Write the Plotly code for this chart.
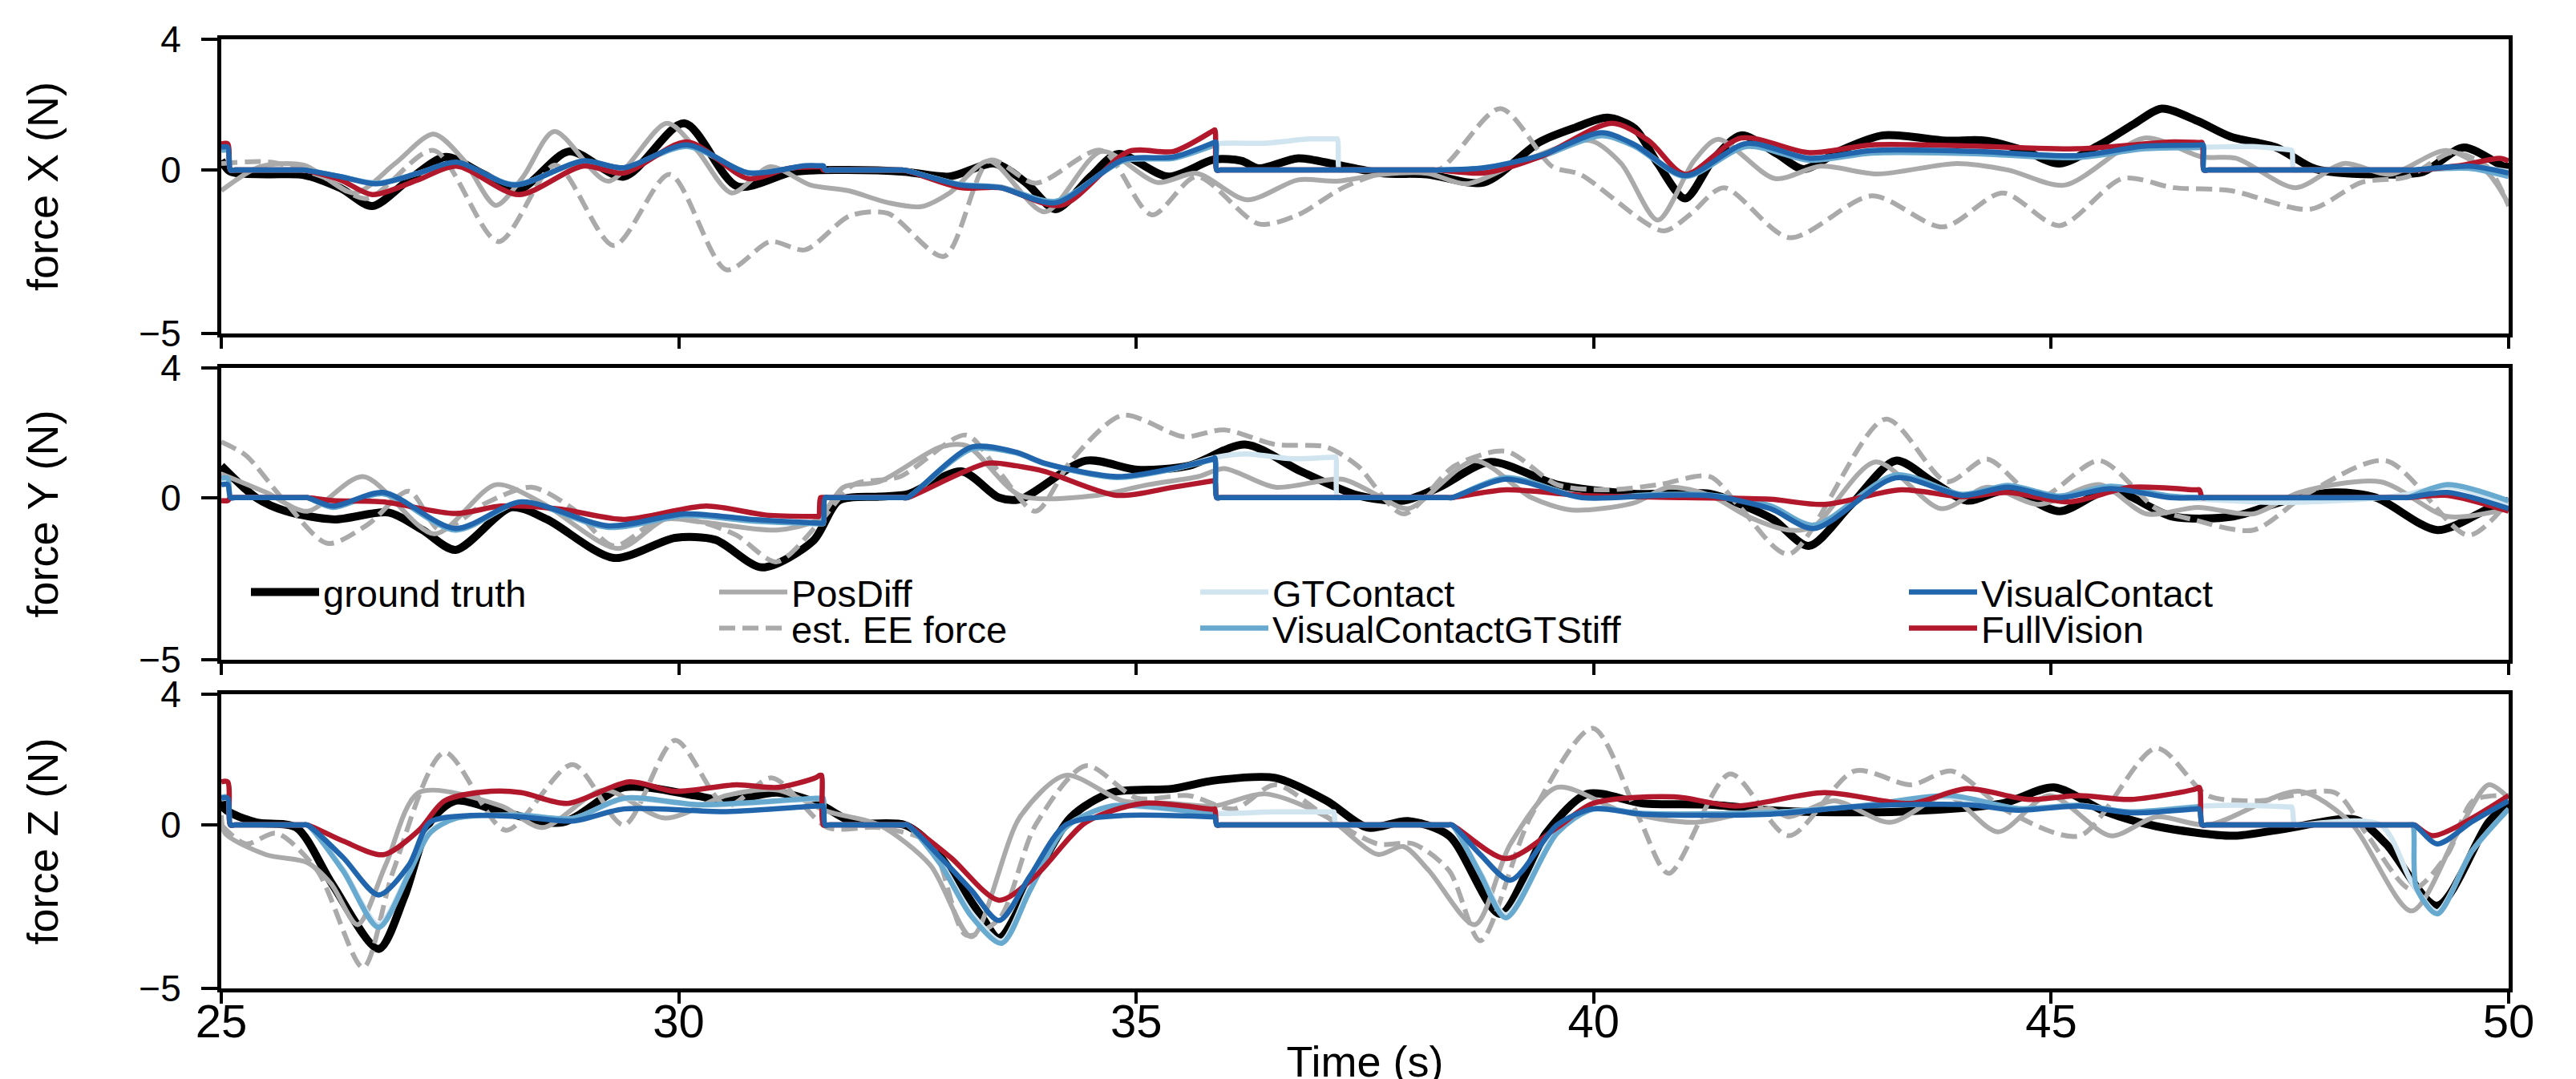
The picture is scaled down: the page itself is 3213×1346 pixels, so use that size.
import plotly.graph_objects as go

# ---------------- data: force X ----------------
t_x_gt = [25.0, 25.1, 25.5, 25.9, 26.3, 26.65, 27.05, 27.45, 27.85, 28.25, 28.8, 29.4, 30.06, 30.64, 31.26, 31.8, 32.46, 32.96, 33.45, 33.8, 34.12, 34.5, 34.8, 35.35, 35.85, 36.15, 36.34, 36.77, 37.2, 37.7, 38.18, 38.8, 39.41, 39.8, 40.15, 40.45, 40.7, 41.0, 41.3, 41.61, 42.0, 42.29, 42.7, 43.16, 43.85, 44.28, 44.7, 45.09, 45.53, 45.9, 46.21, 46.6, 46.96, 47.46, 47.89, 48.51, 49.07, 49.51, 49.94, 50.0]
f_x_gt = [0.3, -0.05, -0.13, -0.15, -0.55, -1.1, -0.3, 0.4, -0.1, -0.6, 0.57, -0.2, 1.43, -0.5, -0.05, 0.0, -0.05, -0.2, 0.2, -0.4, -1.2, -0.2, 0.49, -0.2, 0.32, 0.28, 0.05, 0.36, 0.16, -0.1, -0.13, -0.38, 0.86, 1.3, 1.6, 1.27, 0.2, -0.87, 0.3, 1.06, 0.5, 0.03, 0.6, 1.06, 0.9, 0.9, 0.6, 0.2, 0.77, 1.4, 1.88, 1.5, 1.02, 0.69, 0.03, -0.13, -0.05, 0.69, 0.12, 0.1]

t_x_pd = [25.0, 25.42, 25.9, 26.46, 26.9, 27.32, 27.65, 28.0, 28.3, 28.64, 29.23, 29.87, 30.2, 30.58, 31.0, 31.44, 31.85, 32.29, 32.65, 32.96, 33.39, 34.0, 34.62, 35.23, 35.66, 36.21, 36.77, 37.2, 37.69, 38.18, 38.61, 39.23, 39.96, 40.3, 40.7, 41.1, 41.36, 41.98, 42.48, 43.1, 43.97, 44.53, 45.15, 46.02, 46.65, 47.02, 47.67, 48.2, 48.7, 49.32, 49.76, 50.0]
f_x_pd = [-0.63, 0.1, 0.15, -0.7, 0.2, 1.1, 0.3, -1.08, -0.2, 1.18, -0.34, 1.43, 0.6, -0.7, 0.1, -0.46, -0.63, -1.0, -1.12, -0.7, 0.28, -1.28, 0.57, -0.38, -0.1, -0.91, -0.3, -0.34, -0.13, -0.1, -0.42, 0.28, 0.9, 0.2, -1.53, 0.3, 0.94, -0.26, 0.12, -0.12, 0.2, 0.0, -0.46, 0.98, 0.4, 0.36, -0.54, 0.2, -0.13, 0.6, -0.05, -1.04]

t_x_ee = [25.0, 25.54, 26.1, 26.59, 27.32, 28.03, 28.65, 29.29, 29.9, 30.52, 31.0, 31.38, 31.87, 32.28, 32.9, 33.4, 33.9, 34.62, 35.17, 35.66, 36.34, 36.77, 37.26, 37.75, 38.3, 38.98, 39.55, 39.85, 40.76, 41.05, 41.42, 42.14, 43.04, 43.82, 44.47, 45.09, 45.78, 46.34, 46.96, 47.83, 48.39, 48.89, 49.38, 49.76, 50.0]
f_x_ee = [0.2, 0.24, -0.2, -0.87, 0.6, -2.19, 0.15, -2.31, -0.13, -3.05, -2.19, -2.44, -1.4, -1.32, -2.64, 0.3, -0.4, 0.6, -1.37, -0.2, -1.65, -1.37, -0.54, -0.05, 0.0, 1.88, 0.1, -0.13, -1.86, -1.37, -0.54, -2.07, -0.79, -1.74, -0.7, -1.7, -0.26, -0.54, -0.63, -1.2, -0.38, -0.21, 0.53, 0.12, -1.1]

t_x_gtc = [25.0, 25.07, 25.1, 25.15, 25.85, 25.9, 26.3, 26.7, 27.15, 27.57, 28.2, 28.95, 29.4, 30.09, 30.76, 31.38, 31.56, 31.58, 31.6, 31.65, 32.4, 32.46, 33.08, 33.51, 34.12, 34.86, 35.41, 35.88, 36.4, 36.9, 37.18, 37.2, 37.22, 37.26, 38.25, 38.3, 38.8, 39.41, 40.09, 40.45, 41.0, 41.67, 42.36, 43.04, 44.16, 45.28, 46.02, 46.66, 47.2, 47.6, 47.63, 47.65, 47.7, 48.9, 48.95, 49.57, 50.0]
f_x_gtc = [0.6, 0.6, 0.0, 0.0, 0.0, 0.0, -0.2, -0.4, -0.1, 0.22, -0.45, 0.27, 0.07, 0.75, -0.08, 0.13, 0.13, 0.13, 0.0, 0.0, 0.0, 0.0, -0.45, -0.52, -0.97, 0.3, 0.4, 0.8, 0.82, 0.95, 0.95, 0.95, 0.0, 0.0, 0.0, 0.0, 0.07, 0.42, 1.1, 0.75, -0.15, 0.78, 0.36, 0.58, 0.55, 0.43, 0.7, 0.7, 0.72, 0.62, 0.6, 0.0, 0.0, 0.0, 0.0, 0.1, -0.05]

t_x_vc = [25.0, 25.07, 25.1, 25.15, 25.85, 25.9, 26.3, 26.7, 27.15, 27.57, 28.2, 28.95, 29.4, 30.09, 30.76, 31.38, 31.56, 31.58, 31.6, 31.65, 32.4, 32.46, 33.08, 33.51, 34.12, 34.86, 35.41, 35.85, 35.87, 35.88, 35.92, 38.25, 38.3, 38.8, 39.41, 40.09, 40.45, 41.0, 41.67, 42.36, 43.04, 44.16, 45.28, 46.02, 46.62, 46.66, 46.67, 46.72, 48.9, 48.95, 49.57, 50.0]
f_x_vcs = [0.6, 0.6, 0.0, 0.0, 0.0, 0.0, -0.2, -0.4, -0.1, 0.22, -0.44, 0.26, 0.07, 0.72, -0.08, 0.12, 0.12, 0.12, 0.0, 0.0, 0.0, 0.0, -0.44, -0.52, -0.95, 0.28, 0.36, 0.76, 0.78, 0.0, 0.0, 0.0, 0.0, 0.05, 0.4, 1.05, 0.72, -0.2, 0.72, 0.3, 0.52, 0.5, 0.38, 0.65, 0.69, 0.7, 0.0, 0.0, 0.0, 0.0, 0.05, -0.2]
f_x_vc = [0.7, 0.7, 0.0, 0.0, 0.0, 0.0, -0.2, -0.42, -0.1, 0.24, -0.46, 0.28, 0.07, 0.77, -0.09, 0.13, 0.13, 0.13, 0.0, 0.0, 0.0, 0.0, -0.46, -0.54, -1.0, 0.32, 0.4, 0.84, 0.86, 0.0, 0.0, 0.0, 0.0, 0.07, 0.44, 1.14, 0.77, -0.17, 0.81, 0.36, 0.6, 0.57, 0.44, 0.73, 0.76, 0.77, 0.0, 0.0, 0.0, 0.0, 0.12, -0.09]

t_x_fv = [25.0, 25.07, 25.1, 25.15, 25.85, 25.9, 26.3, 26.65, 27.15, 27.57, 28.25, 28.95, 29.4, 30.09, 30.76, 31.2, 31.54, 31.56, 31.58, 31.63, 32.4, 32.46, 33.08, 33.51, 34.18, 34.92, 35.41, 35.84, 35.86, 35.88, 35.92, 38.25, 38.3, 38.8, 39.41, 40.2, 40.6, 41.0, 41.61, 42.36, 43.04, 44.16, 45.28, 46.34, 46.62, 46.65, 46.67, 46.72, 48.95, 49.0, 49.5, 49.9, 50.0]
f_x_fv = [0.8, 0.8, 0.0, 0.0, 0.0, 0.0, -0.3, -0.75, -0.3, 0.12, -0.75, 0.12, -0.09, 0.86, -0.26, 0.05, 0.1, 0.1, 0.0, 0.0, 0.0, 0.0, -0.54, -0.54, -1.08, 0.57, 0.57, 1.2, 1.23, 0.0, 0.0, 0.0, 0.0, -0.09, 0.4, 1.43, 0.9, -0.13, 0.98, 0.53, 0.77, 0.73, 0.65, 0.86, 0.84, 0.84, 0.0, 0.0, 0.0, 0.0, 0.15, 0.36, 0.28]

# ---------------- data: force Y ----------------
t_y_gt = [25.0, 25.38, 25.71, 26.24, 26.83, 27.2, 27.56, 28.17, 28.56, 29.29, 29.96, 30.4, 30.91, 31.47, 31.75, 32.19, 32.5, 33.09, 33.5, 33.73, 34.45, 35.01, 35.57, 36.19, 36.8, 37.42, 37.92, 38.31, 38.87, 39.6, 40.43, 41.27, 41.6, 41.96, 42.35, 42.8, 43.3, 43.7, 44.08, 44.53, 45.09, 45.65, 46.32, 46.99, 47.55, 48.1, 48.55, 49.22, 49.78, 50.0]
f_y_gt = [0.98, 0.0, -0.42, -0.67, -0.46, -1.0, -1.61, -0.3, -0.67, -1.86, -1.24, -1.3, -2.15, -1.33, -0.09, 0.03, 0.1, 0.81, 0.0, -0.05, 1.14, 0.86, 0.98, 1.64, 0.81, 0.07, -0.09, 0.32, 1.1, 0.4, 0.12, 0.12, -0.2, -0.67, -1.49, -0.26, 1.14, 0.5, -0.09, 0.24, -0.42, 0.24, -0.58, -0.58, -0.1, 0.16, 0.0, -1.0, -0.34, -0.09]

t_y_pd = [25.0, 25.49, 25.94, 26.55, 27.33, 28.0, 28.51, 29.34, 29.85, 30.24, 31.07, 31.52, 31.8, 32.19, 32.86, 33.15, 33.73, 34.57, 35.13, 35.68, 35.96, 36.52, 37.25, 37.64, 37.97, 38.7, 39.32, 39.76, 40.43, 40.82, 41.27, 41.7, 42.13, 42.4, 43.08, 43.8, 44.3, 44.86, 45.53, 46.04, 46.6, 47.21, 47.71, 48.6, 49.33, 50.0]
f_y_pd = [0.73, 0.16, -0.42, 0.65, -1.12, 0.4, -0.17, -1.57, -0.67, -0.75, -1.0, -0.67, 0.32, 0.49, 1.56, 1.6, 0.07, 0.07, 0.4, 0.65, 0.9, 0.32, 0.57, 0.07, -0.34, 1.14, 0.0, -0.38, -0.17, 0.32, 0.07, -0.6, -1.0, -0.9, 1.1, -0.34, 0.32, -0.21, 0.4, -0.5, -0.3, -0.5, 0.16, 0.49, -0.58, -0.34]

t_y_ee = [25.0, 25.27, 25.66, 26.16, 26.6, 27.05, 27.39, 27.89, 28.39, 28.84, 29.29, 29.79, 30.24, 30.63, 31.07, 31.52, 31.91, 32.42, 33.14, 33.5, 33.9, 34.29, 34.85, 35.52, 35.96, 36.52, 37.08, 37.42, 37.92, 38.48, 39.04, 39.6, 40.15, 40.71, 41.27, 41.6, 42.13, 43.19, 43.86, 44.3, 44.86, 45.53, 46.15, 46.54, 47.21, 47.82, 48.66, 49.56, 50.0]
f_y_ee = [1.72, 1.3, 0.0, -1.41, -0.83, 0.2, -1.0, -0.17, 0.32, -0.34, -1.49, -0.67, -0.75, -1.16, -1.98, -0.83, 0.4, 0.65, 1.93, 0.8, -0.42, 1.14, 2.54, 1.88, 2.09, 1.64, 1.56, 0.98, -0.5, 0.98, 1.43, 0.4, 0.24, 0.4, 0.65, -0.3, -1.74, 2.42, 0.49, 1.19, 0.0, 1.14, -0.34, -0.67, -1.0, 0.16, 1.14, -1.16, -0.1]

t_y_gtc = [25.0, 25.07, 25.1, 25.15, 25.88, 25.94, 26.22, 26.77, 27.56, 28.28, 29.23, 30.07, 30.8, 31.5, 31.56, 31.58, 31.6, 31.65, 32.45, 32.5, 33.2, 33.69, 34.0, 34.79, 35.4, 35.88, 36.2, 36.7, 37.16, 37.18, 37.2, 37.25, 38.4, 38.45, 39.04, 39.87, 40.71, 41.27, 41.93, 42.41, 43.3, 44.03, 44.53, 45.09, 45.65, 46.3, 46.65, 47.5, 48.4, 48.89, 49.33, 50.0]
f_y_gtc = [0.5, 0.5, 0.0, 0.0, 0.0, 0.0, -0.3, 0.12, -1.0, -0.15, -0.9, -0.55, -0.7, -0.8, -0.8, -0.8, 0.0, 0.0, 0.0, 0.0, 1.5, 1.38, 1.05, 0.62, 0.88, 1.25, 1.35, 1.2, 1.25, 1.25, 0.0, 0.0, 0.0, 0.0, 0.6, 0.02, 0.08, 0.06, -0.3, -0.85, 0.68, 0.1, 0.35, 0.02, 0.3, 0.02, -0.05, -0.15, -0.05, 0.1, 0.35, -0.2]

t_y_vc = [25.0, 25.07, 25.1, 25.15, 25.88, 25.94, 26.22, 26.77, 27.56, 28.28, 29.23, 30.07, 30.8, 31.5, 31.56, 31.58, 31.6, 31.65, 32.45, 32.5, 33.2, 33.69, 34.0, 34.79, 35.4, 35.84, 35.86, 35.88, 35.92, 38.4, 38.45, 39.04, 39.87, 40.71, 41.27, 41.93, 42.41, 43.3, 44.03, 44.53, 45.09, 45.65, 46.3, 46.65, 48.85, 48.89, 49.33, 50.0]
f_y_vcs = [0.6, 0.6, 0.0, 0.0, 0.0, 0.0, -0.3, 0.12, -1.0, -0.15, -0.92, -0.55, -0.72, -0.8, -0.8, -0.8, 0.0, 0.0, 0.0, 0.0, 1.5, 1.38, 1.05, 0.62, 0.88, 1.18, 1.2, 0.0, 0.0, 0.0, 0.0, 0.62, 0.02, 0.1, 0.08, -0.25, -0.85, 0.7, 0.1, 0.38, 0.05, 0.35, 0.05, 0.0, 0.0, 0.0, 0.4, -0.1]
f_y_vc = [0.4, 0.4, 0.0, 0.0, 0.0, 0.0, -0.26, 0.16, -0.95, -0.13, -0.87, -0.5, -0.67, -0.78, -0.79, -0.79, 0.0, 0.0, 0.0, 0.0, 1.56, 1.4, 1.06, 0.65, 0.9, 1.2, 1.23, 0.0, 0.0, 0.0, 0.0, 0.57, 0.0, 0.07, 0.06, -0.34, -0.95, 0.61, 0.07, 0.32, 0.0, 0.28, 0.0, 0.0, 0.0, 0.0, 0.16, -0.34]

t_y_fv = [25.0, 25.07, 25.1, 25.15, 25.88, 25.94, 26.22, 26.77, 27.56, 28.06, 28.7, 29.4, 30.3, 30.96, 31.5, 31.53, 31.55, 31.6, 32.45, 32.5, 33.37, 33.69, 34.0, 34.79, 35.4, 35.84, 35.86, 35.88, 35.92, 38.4, 38.45, 39.04, 39.87, 40.99, 41.93, 42.52, 43.36, 44.03, 44.53, 45.2, 45.87, 46.58, 46.62, 46.65, 46.7, 48.85, 48.9, 49.33, 50.0]
f_y_fv = [-0.09, -0.09, 0.0, 0.0, 0.0, 0.0, -0.09, -0.13, -0.49, -0.26, -0.35, -0.67, -0.26, -0.54, -0.58, -0.58, 0.0, 0.0, 0.0, 0.0, 1.06, 0.98, 0.81, 0.07, 0.32, 0.52, 0.53, 0.0, 0.0, 0.0, 0.0, 0.24, 0.07, 0.0, -0.05, -0.21, 0.24, 0.03, 0.16, -0.13, 0.32, 0.24, 0.24, 0.0, 0.0, 0.0, 0.0, 0.07, -0.42]

# ---------------- data: force Z ----------------
t_z_gt = [25.0, 25.04, 25.38, 25.82, 26.21, 26.72, 27.0, 27.28, 27.56, 28.06, 28.73, 29.4, 30.18, 30.52, 31.08, 31.52, 31.91, 32.47, 32.75, 33.31, 33.5, 33.9, 34.29, 34.73, 35.4, 35.85, 36.52, 37.08, 37.53, 37.97, 38.42, 38.98, 39.48, 39.93, 40.54, 41.27, 41.93, 42.24, 43.36, 44.47, 45.03, 45.59, 46.15, 46.99, 47.55, 48.33, 48.66, 49.22, 49.78, 50.0]
f_z_gt = [0.9, 0.49, 0.08, -0.08, -1.8, -3.79, -2.2, 0.08, 0.74, 0.41, 0.08, 1.15, 0.9, 0.74, 0.99, 0.66, 0.08, 0.0, -0.58, -2.8, -3.46, -1.56, 0.25, 0.99, 1.11, 1.36, 1.44, 0.74, -0.08, 0.12, -0.33, -2.72, -0.25, 0.95, 0.66, 0.62, 0.45, 0.41, 0.41, 0.66, 1.15, 0.41, -0.04, -0.33, -0.12, 0.16, -0.58, -2.47, 0.08, 0.66]

t_z_pd = [25.0, 25.04, 25.49, 25.94, 26.2, 26.49, 26.8, 27.16, 28.06, 28.51, 29.18, 29.85, 30.52, 31.08, 31.63, 32.19, 32.75, 33.2, 33.73, 34.23, 34.85, 35.4, 35.85, 36.41, 37.08, 37.64, 37.92, 38.2, 38.7, 39.09, 39.6, 40.32, 41.1, 41.93, 42.13, 42.63, 43.24, 43.86, 44.42, 44.98, 45.65, 46.15, 46.71, 47.71, 48.27, 48.94, 49.44, 49.78, 50.0]
f_z_pd = [0.3, -0.25, -0.91, -1.15, -1.8, -3.05, -1.2, 0.99, 0.58, -0.08, 1.07, 0.21, 0.9, 1.07, 0.41, 0.0, -1.23, -3.42, 0.25, 1.52, 0.74, 0.66, 0.58, 0.95, 0.25, -0.9, -0.66, -1.4, -3.05, -0.58, 1.15, 0.41, 0.08, 0.49, 0.25, 0.74, 0.08, 0.9, -0.21, 0.9, -0.33, 0.25, 0.0, 1.03, 0.08, -2.63, -0.25, 1.23, 0.82]

t_z_ee = [25.0, 25.27, 25.6, 26.05, 26.55, 26.88, 27.44, 28.11, 28.84, 29.4, 29.96, 30.52, 31.02, 31.63, 32.19, 32.75, 33.14, 33.5, 33.9, 34.45, 35.01, 35.57, 36.07, 36.52, 37.08, 37.64, 38.03, 38.42, 38.76, 39.31, 39.99, 40.49, 40.82, 41.49, 42.13, 42.85, 43.47, 43.91, 44.53, 45.31, 46.15, 46.71, 47.27, 48.1, 48.44, 48.94, 49.33, 49.61, 50.0]
f_z_ee = [0.0, -0.58, -0.25, -1.4, -4.36, -1.4, 2.22, -0.16, 1.85, 0.0, 2.59, 0.58, 1.44, -0.08, -0.08, -0.58, -3.37, -2.88, 0.0, 1.81, 0.82, 0.9, 0.49, 1.23, 0.25, -0.58, -0.58, -1.4, -3.54, 0.25, 2.96, 0.25, -1.48, 1.56, -0.33, 1.65, 1.23, 1.65, 0.41, -0.33, 2.35, 0.9, 0.74, 0.99, -0.25, -1.98, -0.9, 0.74, 0.9]

t_z_gtc = [25.0, 25.07, 25.1, 25.15, 25.88, 25.94, 26.33, 26.72, 27.05, 27.28, 27.56, 28.28, 28.84, 29.4, 30.24, 31.5, 31.56, 31.58, 31.6, 31.65, 32.45, 32.5, 32.86, 33.2, 33.53, 33.84, 34.23, 34.73, 35.88, 36.5, 37.14, 37.16, 37.18, 37.22, 38.4, 38.45, 38.76, 39.04, 39.6, 39.99, 40.54, 41.93, 42.96, 43.9, 44.64, 45.31, 45.87, 46.65, 47.2, 47.6, 47.63, 47.66, 47.7, 48.6, 48.95, 49.22, 49.6, 50.0]
f_z_gtc = [0.8, 0.8, 0.0, 0.0, 0.0, 0.0, -1.35, -3.05, -1.45, -0.2, 0.2, 0.3, 0.2, 0.8, 0.6, 0.8, 0.8, 0.8, 0.0, 0.0, 0.0, 0.0, -1.15, -2.7, -3.55, -1.9, -0.05, 0.55, 0.35, 0.4, 0.4, 0.4, 0.0, 0.0, 0.0, 0.0, -1.45, -2.75, -0.2, 0.47, 0.35, 0.38, 0.6, 0.85, 0.5, 0.6, 0.4, 0.58, 0.6, 0.55, 0.55, 0.0, 0.0, 0.0, -1.8, -2.65, -0.8, 0.49]

t_z_vcs = [25.0, 25.07, 25.1, 25.15, 25.88, 25.94, 26.33, 26.72, 27.05, 27.28, 27.56, 28.28, 28.84, 29.4, 30.24, 31.5, 31.56, 31.58, 31.6, 31.65, 32.45, 32.5, 32.86, 33.2, 33.53, 33.84, 34.23, 34.73, 35.84, 35.86, 35.88, 35.92, 38.4, 38.45, 38.76, 39.04, 39.6, 39.99, 40.54, 41.93, 42.96, 43.9, 44.64, 45.31, 45.87, 46.58, 46.62, 46.65, 46.7, 48.9, 48.95, 48.99, 49.22, 49.6, 50.0]
f_z_vcs = [0.85, 0.85, 0.0, 0.0, 0.0, 0.0, -1.4, -3.13, -1.5, -0.25, 0.2, 0.3, 0.2, 0.82, 0.62, 0.82, 0.82, 0.82, 0.0, 0.0, 0.0, 0.0, -1.2, -2.8, -3.62, -2.0, -0.08, 0.58, 0.33, 0.33, 0.0, 0.0, 0.0, 0.0, -1.5, -2.84, -0.25, 0.49, 0.35, 0.38, 0.6, 0.9, 0.5, 0.6, 0.4, 0.55, 0.55, 0.0, 0.0, 0.0, 0.0, -1.9, -2.72, -0.8, 0.49]

t_z_vc = [25.0, 25.07, 25.1, 25.15, 25.88, 25.94, 26.33, 26.72, 27.05, 27.28, 27.72, 28.28, 28.84, 29.4, 30.52, 31.5, 31.56, 31.58, 31.6, 31.65, 32.45, 32.5, 32.86, 33.2, 33.5, 33.84, 34.23, 34.85, 35.84, 35.86, 35.88, 35.92, 38.4, 38.45, 38.76, 39.09, 39.6, 39.99, 40.54, 41.93, 42.96, 44.08, 44.64, 45.31, 45.87, 46.58, 46.62, 46.65, 46.7, 48.92, 48.97, 49.22, 49.6, 50.0]
f_z_vc = [0.82, 0.82, 0.0, 0.0, 0.0, 0.0, -0.99, -2.14, -1.23, 0.08, 0.29, 0.25, 0.12, 0.49, 0.41, 0.58, 0.58, 0.58, 0.0, 0.0, 0.0, 0.0, -0.99, -2.0, -2.92, -1.56, 0.0, 0.29, 0.25, 0.25, 0.0, 0.0, 0.0, 0.0, -0.9, -1.69, 0.0, 0.49, 0.33, 0.33, 0.58, 0.62, 0.45, 0.58, 0.37, 0.49, 0.49, 0.0, 0.0, 0.0, 0.0, -0.58, 0.1, 0.74]

t_z_fv = [25.0, 25.07, 25.1, 25.15, 25.88, 25.94, 26.33, 26.77, 27.16, 27.44, 27.95, 28.28, 28.78, 29.46, 29.96, 30.63, 31.08, 31.5, 31.54, 31.56, 31.58, 31.63, 32.45, 32.5, 32.97, 33.5, 33.9, 34.45, 35.07, 35.84, 35.86, 35.88, 35.92, 38.4, 38.45, 39.04, 39.6, 39.99, 40.88, 41.55, 42.52, 43.47, 44.08, 44.75, 45.31, 45.87, 46.58, 46.62, 46.65, 46.7, 48.92, 48.97, 49.17, 50.0]
f_z_fv = [1.32, 1.32, 0.0, 0.0, 0.0, 0.0, -0.49, -0.91, -0.16, 0.74, 1.03, 0.99, 0.66, 1.32, 1.03, 1.23, 1.15, 1.45, 1.52, 1.52, 0.0, 0.0, 0.0, 0.0, -0.99, -2.3, -1.56, 0.08, 0.66, 0.48, 0.49, 0.0, 0.0, 0.0, 0.0, -1.03, -0.08, 0.66, 0.86, 0.58, 0.99, 0.66, 1.11, 0.78, 0.9, 0.78, 1.1, 1.15, 0.0, 0.0, 0.0, 0.0, -0.33, 0.9]

series_names = ["ground truth", "PosDiff", "est. EE force", "GTContact",
                "VisualContactGTStiff", "FullVision", "VisualContact"]
y_titles = ["force X (N)", "force Y (N)", "force Z (N)"]
x_tick_vals = [25, 30, 35, 40, 45, 50]
y_tick_vals = [-5, 0, 4]

panels = [
    [(t_x_gt, f_x_gt), (t_x_pd, f_x_pd), (t_x_ee, f_x_ee), (t_x_gtc, f_x_gtc),
     (t_x_vc, f_x_vcs), (t_x_fv, f_x_fv), (t_x_vc, f_x_vc)],
    [(t_y_gt, f_y_gt), (t_y_pd, f_y_pd), (t_y_ee, f_y_ee), (t_y_gtc, f_y_gtc),
     (t_y_vc, f_y_vcs), (t_y_fv, f_y_fv), (t_y_vc, f_y_vc)],
    [(t_z_gt, f_z_gt), (t_z_pd, f_z_pd), (t_z_ee, f_z_ee), (t_z_gtc, f_z_gtc),
     (t_z_vcs, f_z_vcs), (t_z_fv, f_z_fv), (t_z_vc, f_z_vc)],
]

# ---------------- styles ----------------
styles = {
    "ground truth": dict(color="#000000", width=10, dash="solid"),
    "PosDiff": dict(color="#aaaaaa", width=6, dash="solid"),
    "est. EE force": dict(color="#aaaaaa", width=6, dash="20px,9px"),
    "GTContact": dict(color="#d1e5f0", width=6.5, dash="solid"),
    "VisualContactGTStiff": dict(color="#67a9cf", width=6.5, dash="solid"),
    "FullVision": dict(color="#b2182b", width=6.5, dash="solid"),
    "VisualContact": dict(color="#2166ac", width=6.5, dash="solid"),
}

W, H = 3213, 1346
ML, MR, MT, MB = 268, 92, 41, 121
PW, PH = W - ML - MR, H - MT - MB

def px_x(px):
    return (px - ML) / PW

def px_y(py):
    return (H - MB - py) / PH

legend_pos = {  # (legend box left px, row center px)
    "ground truth": (300, 731),
    "PosDiff": (884, 731),
    "est. EE force": (884, 776),
    "GTContact": (1484, 731),
    "VisualContactGTStiff": (1484, 776),
    "VisualContact": (2368, 731),
    "FullVision": (2368, 776),
}
legend_ids = {name: ("legend" if i == 0 else f"legend{i + 1}")
              for i, name in enumerate(series_names)}

fig = go.Figure()
for p, data in enumerate(panels):
    xa = "x" if p == 0 else f"x{p + 1}"
    ya = "y" if p == 0 else f"y{p + 1}"
    for name, (t, f) in zip(series_names, data):
        st = styles[name]
        fig.add_trace(go.Scatter(
            x=t, y=f, mode="lines", name=name,
            line=dict(color=st["color"], width=st["width"], dash=st["dash"],
                      shape="spline", smoothing=0.8),
            xaxis=xa, yaxis=ya,
            showlegend=(p == 0), legendgroup=name,
            legend=legend_ids[name],
        ))

font_family = "Liberation Sans, Arial, Helvetica, sans-serif"
layout = dict(
    width=W, height=H,
    margin=dict(l=ML, r=MR, t=MT, b=MB, autoexpand=False),
    paper_bgcolor="white", plot_bgcolor="white",
    font=dict(family=font_family, color="black", size=48),
)

domains = [[px_y(408), px_y(41)], [px_y(815), px_y(451)], [px_y(1225), px_y(858)]]
for p in range(3):
    sx = "" if p == 0 else str(p + 1)
    layout[f"xaxis{sx}"] = dict(
        domain=[0, 1], anchor=f"y{sx}", range=[25, 50],
        tickvals=x_tick_vals, ticktext=[str(v) for v in x_tick_vals],
        showticklabels=(p == 2), ticks="outside", ticklen=14, tickwidth=4,
        tickcolor="black", showline=True, linewidth=5, linecolor="black",
        mirror=True, showgrid=False, zeroline=False,
        tickfont=dict(size=58),
        ticklabelstandoff=-28,
        matches=None if p == 0 else "x",
    )
    layout[f"yaxis{sx}"] = dict(
        domain=domains[p], anchor=f"x{sx}", range=[-5, 4],
        tickvals=y_tick_vals, ticktext=["\u22125", "0", "4"],
        ticks="outside", ticklen=20, tickwidth=4, tickcolor="black",
        showline=True, linewidth=5, linecolor="black", mirror=True,
        showgrid=False, zeroline=False, tickfont=dict(size=46),
        ticklabelstandoff=16,
        title=dict(text=y_titles[p], font=dict(size=54), standoff=85),
    )
layout["xaxis3"]["title"] = dict(text="Time (s)", font=dict(size=54), standoff=27)

for name in series_names:
    lx, ly = legend_pos[name]
    layout[legend_ids[name]] = dict(
        x=px_x(lx), y=px_y(ly), xanchor="left", yanchor="middle",
        bgcolor="rgba(0,0,0,0)", borderwidth=0, font=dict(size=47),
        itemwidth=85, tracegroupgap=0,
    )

fig.update_layout(**layout)
fig.write_html("out.html")
